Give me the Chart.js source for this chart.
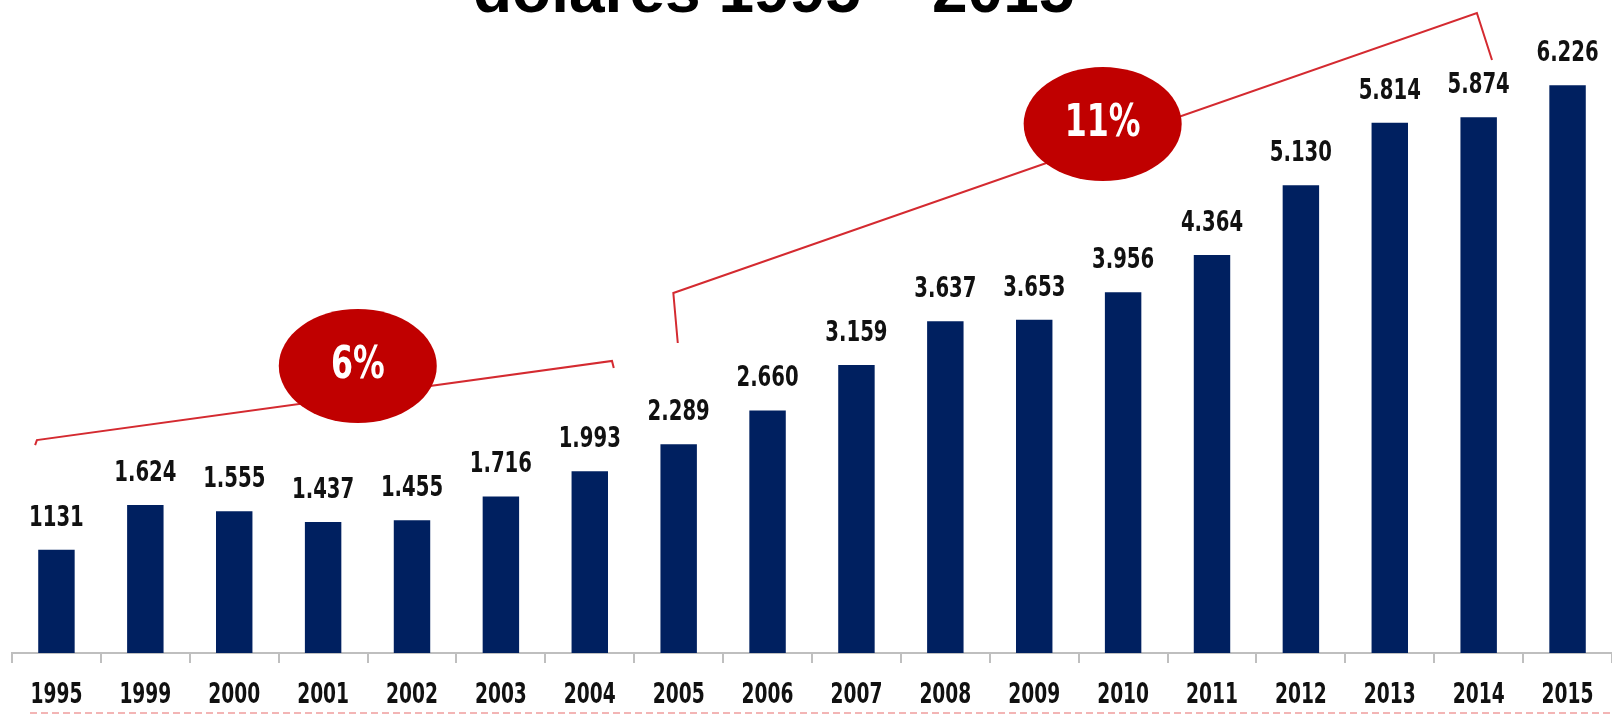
<!DOCTYPE html>
<html>
<head>
<meta charset="utf-8">
<script src="https://cdn.jsdelivr.net/npm/chart.js@4/dist/chart.umd.min.js"></script>
<style>
  html, body { margin: 0; padding: 0; background: #fff; }
  canvas { display: block; }
</style>
</head>
<body>
<canvas id="grafico" width="1612" height="715"></canvas>
<script>
const ANOS = ["1995","1999","2000","2001","2002","2003","2004","2005","2006","2007","2008","2009","2010","2011","2012","2013","2014","2015"];
const VALORES = [1131, 1624, 1555, 1437, 1455, 1716, 1993, 2289, 2660, 3159, 3637, 3653, 3956, 4364, 5130, 5814, 5874, 6226];
const ROTULOS = ["1131","1.624","1.555","1.437","1.455","1.716","1.993","2.289","2.660","3.159","3.637","3.653","3.956","4.364","5.130","5.814","5.874","6.226"];
const TITULO = "dólares 1995 – 2015";

// faixas de crescimento: pontos em (indice da categoria, valor)
const FAIXAS = [
    { texto: "6%",  pontos: [[-0.24, 2280], [-0.22, 2335], [6.25, 3202], [6.27, 3125]], centro: [3.39, 3147] },
    { texto: "11%", pontos: [[6.99, 3399], [6.94, 3947], [15.98, 7018], [16.15, 6502]], centro: [11.77, 5800] }
];

const FONTE = "'Liberation Sans Narrow', 'DejaVu Sans Condensed', sans-serif";

// texto comprimido na horizontal (imita a fonte estreita do original)
function textoEstreito(ctx, txt, x, y, sx) {
    ctx.save();
    ctx.translate(x, y);
    ctx.scale(sx, 1);
    ctx.fillText(txt, 0, 0);
    ctx.restore();
}

const decoracao = {
    id: 'decoracao',
    afterDatasetsDraw(chart) {
        const ctx = chart.ctx;
        const meta = chart.getDatasetMeta(0);
        const x = chart.scales.x;
        ctx.save();
        ctx.font = "bold 28px " + FONTE;
        ctx.fillStyle = "#111";
        ctx.textAlign = "center";
        ctx.textBaseline = "alphabetic";
        meta.data.forEach((bar, i) => {
            textoEstreito(ctx, ROTULOS[i], bar.x, bar.y - 24, 0.78);
        });
        // rotulos do eixo x
        ANOS.forEach((a, i) => {
            textoEstreito(ctx, a, x.getPixelForValue(i), x.top + 50, 0.74);
        });
        ctx.restore();
    },
    afterDraw(chart) {
        const ctx = chart.ctx;
        const x = chart.scales.x, y = chart.scales.y;
        ctx.save();

        FAIXAS.forEach(f => {
            ctx.strokeStyle = "#d42a30";
            ctx.lineWidth = 2;
            ctx.beginPath();
            f.pontos.forEach((p, k) => {
                const px = x.getPixelForValue(p[0]), py = y.getPixelForValue(p[1]);
                if (k === 0) ctx.moveTo(px, py); else ctx.lineTo(px, py);
            });
            ctx.stroke();

            const cx = x.getPixelForValue(f.centro[0]), cy = y.getPixelForValue(f.centro[1]);
            ctx.fillStyle = "#c00000";
            ctx.beginPath();
            ctx.ellipse(cx, cy, 79, 57, 0, 0, Math.PI * 2);
            ctx.fill();
            ctx.fillStyle = "#fff";
            ctx.font = "bold 44px " + FONTE;
            ctx.textAlign = "center";
            ctx.textBaseline = "middle";
            textoEstreito(ctx, f.texto, cx, cy + 1, 0.8);
        });

        // titulo (cortado no topo, como no original)
        ctx.fillStyle = "#000";
        ctx.font = "bold 64px 'Liberation Sans', Arial, sans-serif";
        ctx.textAlign = "left";
        ctx.textBaseline = "alphabetic";
        ctx.fillText(TITULO, 473, 12);

        // linha tracejada rosa no rodape
        ctx.strokeStyle = "#f3b5b5";
        ctx.lineWidth = 2;
        ctx.setLineDash([7, 4]);
        ctx.beginPath();
        ctx.moveTo(30, 713);
        ctx.lineTo(1612, 713);
        ctx.stroke();
        ctx.restore();
    }
};

new Chart(document.getElementById('grafico'), {
    type: 'bar',
    data: {
        labels: ANOS,
        datasets: [{
            data: VALORES,
            backgroundColor: '#002060',
            barPercentage: 0.41,
            categoryPercentage: 1
        }]
    },
    options: {
        responsive: false,
        animation: false,
        layout: { padding: { left: 12, right: 0, top: 0, bottom: 0 } },
        plugins: { legend: { display: false }, tooltip: { enabled: false } },
        scales: {
            x: {
                afterFit(scale) { scale.height = 62; },
                grid: { offset: true, drawOnChartArea: false, drawTicks: true, tickLength: 10, color: '#bfbfbf', lineWidth: 2 },
                border: { display: true, color: '#bfbfbf', width: 2 },
                ticks: { display: false }
            },
            y: {
                display: false,
                min: 0,
                max: 7160
            }
        }
    },
    plugins: [decoracao]
});
</script>
</body>
</html>
